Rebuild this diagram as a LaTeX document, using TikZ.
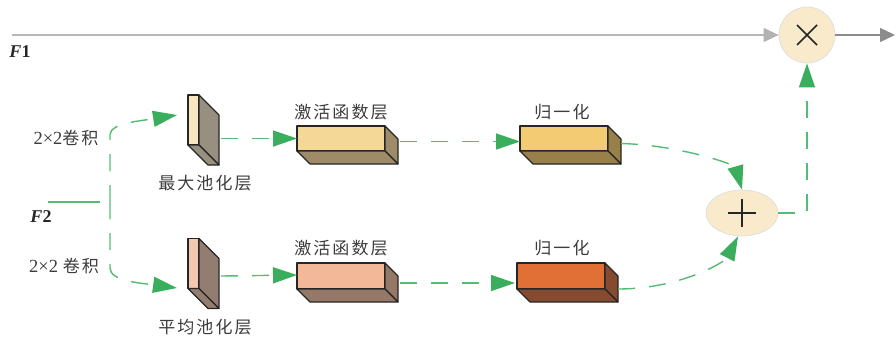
\documentclass[tikz,border=0pt]{standalone}
\usepackage{fontspec}
\setmainfont{Liberation Serif}
\newfontfamily\cjk[LetterSpace=12]{Noto Sans CJK SC}
\usetikzlibrary{arrows.meta,shapes.geometric,calc}
\definecolor{lgreen}{HTML}{55BB75}
\definecolor{dgreen}{HTML}{3AAE5C}
\definecolor{txt}{HTML}{3C3C3C}
\definecolor{beige}{HTML}{F9EACB}
\definecolor{poolAf}{HTML}{F8E6C2}
\definecolor{poolAs}{HTML}{979080}
\definecolor{poolBf}{HTML}{F3C8B0}
\definecolor{poolBs}{HTML}{937D70}
\definecolor{actAf}{HTML}{F4D898}
\definecolor{actAs}{HTML}{9E8C68}
\definecolor{normAf}{HTML}{F3CB72}
\definecolor{normAs}{HTML}{97804A}
\definecolor{actBf}{HTML}{F2B898}
\definecolor{actBs}{HTML}{957868}
\definecolor{normBf}{HTML}{E07035}
\definecolor{normBs}{HTML}{864A30}
\newcommand\cubsides[3]{%
  \filldraw[boxline, fill=#3] (#1.north east) -- ++(#2,#2) -- ($(#1.south east)+(#2,#2)$) -- (#1.south east) -- cycle;
  \filldraw[boxline, fill=#3] (#1.south west) -- (#1.south east) -- ++(#2,#2) -- ($(#1.south west)+(#2,#2)$) -- cycle;}
\begin{document}
\begin{tikzpicture}[x=1pt,y=-1pt,
  boxline/.style={draw=black!85, line width=1.1pt, line join=round},
  front/.style={boxline, inner sep=0pt, outer sep=0pt, rectangle},
  slab/.style={front, minimum width=11pt, minimum height=50pt},
  cub/.style={front, minimum width=88pt, minimum height=25pt},
  lab/.style={text=txt, font=\cjk\fontsize{17}{20}\selectfont, inner sep=0pt},
  numlab/.style={text=txt, font=\fontsize{18.5}{20}\selectfont, inner sep=0pt},
  flab/.style={text=black!85, font=\fontsize{18}{20}\selectfont\bfseries, inner sep=0pt},
  opnode/.style={fill=beige, draw=black!12, line width=0.8pt, inner sep=0pt},
  gline/.style={draw=black!28, line width=1.3pt, -{Triangle[length=15pt,width=14pt,color=black!30]}},
  gline2/.style={draw=black!45, line width=1.3pt, -{Triangle[length=15pt,width=14pt,color=black!45]}},
  gdashnt/.style={draw=lgreen, line width=1.4pt, dash pattern=on 17pt off 14pt},
  gdash/.style={gdashnt, -{Triangle[length=24pt,width=16pt,color=dgreen]}},
  symb/.style={draw=black!85, line width=1.6pt}
]
\useasboundingbox (0,0) rectangle (896,338);

% operator nodes
\node[opnode, circle, minimum size=56pt] (mul) at (807,35) {};
\node[opnode, ellipse, minimum width=72pt, minimum height=46pt] (plus) at (742,213) {};
\draw[symb] ($(mul.center)+(-10,-10)$) -- ($(mul.center)+(10,10)$);
\draw[symb] ($(mul.center)+(-10,10)$) -- ($(mul.center)+(10,-10)$);
\draw[symb] ($(plus.center)+(-14,0)$) -- ($(plus.center)+(14,0)$);
\draw[symb] ($(plus.center)+(0,-14)$) -- ($(plus.center)+(0,14)$);

% pooling slabs
\node[slab, fill=poolAf] (pool1) at (193.5,120) {};
\cubsides{pool1}{20}{poolAs}
\node[slab, fill=poolBf] (pool2) at (193.5,263.5) {};
\cubsides{pool2}{20}{poolBs}

% cuboids
\node[cub, fill=actAf] (act1) at (341,138.5) {};
\cubsides{act1}{13}{actAs}
\node[cub, fill=normAf] (norm1) at (564,138.5) {};
\cubsides{norm1}{13}{normAs}
\node[cub, fill=actBf, minimum height=26pt] (act2) at (341,276) {};
\cubsides{act2}{13}{actBs}
\node[cub, fill=normBf, minimum height=26pt] (norm2) at (561,276) {};
\cubsides{norm2}{13}{normBs}

% labels
\node[flab] (f1) at (20,52) {\textit{F}1};
\node[flab] (f2) at (41,217) {\textit{F}2};
\node[numlab] (k1) at (66,138) {2×2{\cjk\fontsize{17}{20}\selectfont 卷积}};
\node[numlab] (k2) at (64,266) {2×2 {\cjk\fontsize{17}{20}\selectfont 卷积}};
\node[lab] (t1) at (205,183) {最大池化层};
\node[lab] (t2) at (205,327) {平均池化层};
\node[lab] (t3) at (341,112) {激活函数层};
\node[lab] (t4) at (341,248) {激活函数层};
\node[lab] (t5) at (562,112) {归一化};
\node[lab] (t6) at (562,248) {归一化};

% coordinates
\coordinate (f1s) at (12,35);
\coordinate (outp) at (895,35);
\coordinate (f2s) at (48,202);
\coordinate (f2j) at (110,202);
\coordinate (in1) at (177,115);
\coordinate (in2) at (177,288);

% gray connectors
\draw[gline] (f1s) -- (mul.west);
\draw[gline2] (mul.east) -- (outp);

% green connectors
\draw[gdashnt, dash pattern=on 52pt off 10pt] (f2s) -- (f2j);
\draw[gdash] (f2j) -- (110,135) .. controls (110,123) and (140,121) .. (in1);
\draw[gdash] (f2j) -- (110,268) .. controls (110,281) and (140,283) .. (in2);
\draw[gdash] ([xshift=22pt]pool1.east |- act1.west) -- (act1.west);
\draw[gdash] ([xshift=22pt]pool2.east |- act2.west) -- ([yshift=1pt]act2.west);
\draw[gdash] ([shift={(15pt,-3pt)}]act1.east) -- ([yshift=-3pt]norm1.west);
\draw[gdash] ([shift={(15pt,-7pt)}]act2.east) -- ([shift={(-2pt,-7pt)}]norm2.west);
\draw[gdash] ([shift={(13pt,-5pt)}]norm1.east) .. controls (680,145) and (735,165) .. (plus.north);
\draw[gdash] ([shift={(13pt,-13pt)}]norm2.east) .. controls (680,289) and (725,262) .. ([xshift=-4pt]plus.south);
\draw[gdash] (plus.east) -| (mul.south);
\end{tikzpicture}
\end{document}
